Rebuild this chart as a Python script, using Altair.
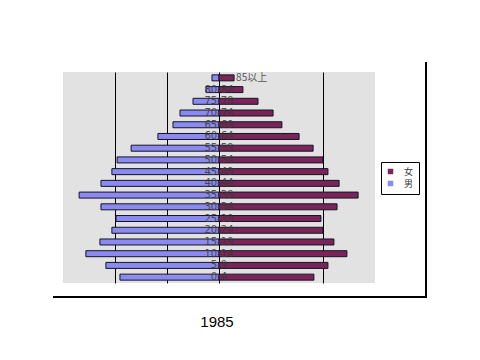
import altair as alt
import pandas as pd

ages = ["0-4", "5-9", "10-14", "15-19", "20-24", "25-29", "30-34", "35-39",
        "40-44", "45-49", "50-54", "55-59", "60-64", "65-69", "70-74",
        "75-79", "80-84", "85以上"]
male = [381, 435, 512, 458, 412, 396, 454, 538, 454, 412, 392, 338, 235,
        177, 150, 100, 50, 27]
female = [365, 419, 492, 442, 400, 392, 454, 535, 462, 419, 400, 362, 308,
          242, 208, 150, 92, 58]
sexes = ["女", "男"]
colors = ["#7B2457", "#8A8AF0"]
grid_values = [-400, -200, 0, 400]
year_label = "1985"

rows = []
for a, m, f in zip(ages, male, female):
    rows.append({"age": a, "sex": "男", "v": -m})
    rows.append({"age": a, "sex": "女", "v": f})
df = pd.DataFrame(rows)
lab = pd.DataFrame({"age": ages, "f": female})

order = list(reversed(ages))
yenc = alt.Y("age:N", sort=order, axis=None,
             scale=alt.Scale(domain=order, paddingInner=0, paddingOuter=0))
xscale = alt.Scale(domain=[-600, 600], nice=False, zero=False)

bars = alt.Chart(df).mark_bar(size=6, stroke="#141428", strokeWidth=1).encode(
    x=alt.X("v:Q", scale=xscale,
            axis=alt.Axis(values=grid_values, grid=True, gridColor="black",
                          gridWidth=1, labels=False, ticks=False,
                          domain=False, title=None)),
    y=yenc,
    color=alt.Color("sex:N",
                    scale=alt.Scale(domain=sexes, range=colors),
                    legend=alt.Legend(orient="none", legendX=318, legendY=90,
                                      title=None, strokeColor="black",
                                      fillColor="white", padding=5,
                                      symbolType="square", symbolSize=30,
                                      symbolStrokeWidth=0, labelOffset=9,
                                      labelFont="Noto Sans CJK JP",
                                      labelFontSize=9, labelColor="#333",
                                      rowPadding=2, labelLimit=40)),
)

labels = alt.Chart(lab).transform_filter(
    alt.datum.age != "85以上"
).mark_text(fontSize=10, color="#3a3a3a", font="DejaVu Sans",
            align="center", baseline="middle", opacity=0.85).encode(
    x=alt.value(156),
    y=yenc,
    text="age:N",
)

top_label = alt.Chart(lab).transform_filter(
    alt.datum.age == "85以上"
).mark_text(fontSize=10, color="#555", font="Noto Sans CJK JP",
            align="left", baseline="middle", dx=2).encode(
    x=alt.X("f:Q", scale=xscale),
    y=yenc,
    text="age:N",
)

frame_right = alt.Chart(lab).mark_rule(color="black", strokeWidth=2).encode(
    x=alt.value(363), y=alt.value(-10), y2=alt.value(225))
frame_bottom = alt.Chart(lab).mark_rule(color="black", strokeWidth=2).encode(
    x=alt.value(-10), x2=alt.value(364), y=alt.value(225))

title = alt.Chart(pd.DataFrame({"t": [year_label]})).mark_text(
    fontSize=15, font="Liberation Sans", color="black", align="center",
    baseline="middle").encode(
    x=alt.value(154), y=alt.value(250), text="t:N")

chart = alt.layer(bars, labels, top_label, frame_right, frame_bottom, title).properties(
    width=312, height=211,
    autosize=alt.AutoSizeParams(type="none"),
    padding={"left": 55, "top": 64, "right": 90, "bottom": 70},
).configure_view(fill="#E2E2E2", stroke=None)

chart.save("out.html", embed_options={"renderer": "svg", "actions": False})
